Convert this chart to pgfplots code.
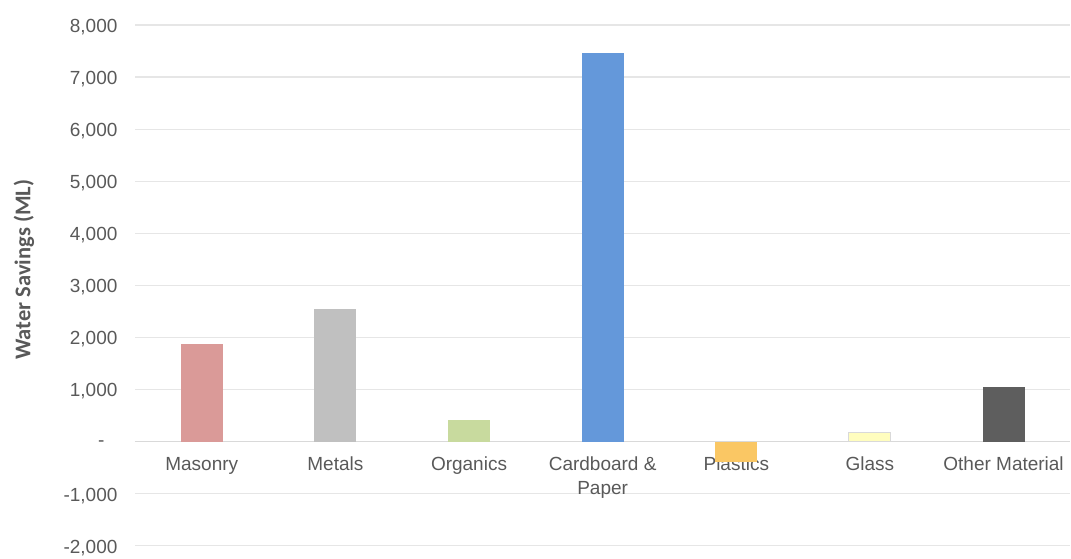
\documentclass[border=0pt]{standalone}
\usepackage{pgfplots}
\pgfplotsset{compat=1.18}
\usepackage{fontspec}
\setmainfont{Liberation Sans}
\newfontfamily\calibri{Carlito}
\definecolor{txt}{HTML}{595959}
\definecolor{gridc}{HTML}{E6E6E6}
\definecolor{zeroc}{HTML}{D9D9D9}
\definecolor{cMas}{HTML}{DA9A98}
\definecolor{cMet}{HTML}{C0C0C0}
\definecolor{cOrg}{HTML}{C8DA9E}
\definecolor{cCar}{HTML}{6498DA}
\definecolor{cPla}{HTML}{FAC764}
\definecolor{cGla}{HTML}{FFFDBE}
\definecolor{cOth}{HTML}{5E5E5E}
\begin{document}
\begin{tikzpicture}
\begin{axis}[
  at={(0pt,0pt)}, anchor=south west,
  scale only axis, width=936pt, height=521pt,
  ymin=-2000, ymax=8000,
  xmin=-0.5, xmax=6.5,
  ytick={-2000,-1000,0,1000,2000,3000,4000,5000,6000,7000,8000},
  yticklabels={{-2,000},{-1,000},{-\kern13pt},{1,000},{2,000},{3,000},{4,000},{5,000},{6,000},{7,000},{8,000}},
  xtick={0,1,2,3,4,5,6},
  xticklabels={Masonry,Metals,Organics,{Cardboard \&\\Paper},Plastics,Glass,Other Material},
  axis x line*=middle,
  axis y line*=left,
  x axis line style={draw=zeroc, line width=1.2pt},
  y axis line style={draw=none},
  major tick length=0pt,
  ymajorgrids, grid style={gridc, line width=1.2pt},
  xticklabel style={font=\fontsize{19}{24}\selectfont, text=txt, align=center, yshift=-12pt, anchor=north},
  yticklabel style={font=\fontsize{19}{24}\selectfont, text=txt, xshift=-14pt, yshift=-2pt},
  ylabel={\calibri\bfseries Water Savings (ML)},
  every axis y label/.style={at={(axis description cs:0,0.53)}, xshift=-111pt, rotate=90, anchor=center, font=\fontsize{22.5}{24}\selectfont, text=txt},
  ybar, bar width=42pt, bar shift=0pt,
  clip=false,
]
\addplot[fill=cMas, draw=none] coordinates {(0,1877)};
\addplot[fill=cMet, draw=none] coordinates {(1,2545)};
\addplot[fill=cOrg, draw=none] coordinates {(2,418)};
\addplot[fill=cCar, draw=none] coordinates {(3,7455)};
\addplot[fill=cPla, draw=none] coordinates {(4,-394)};
\addplot[fill=cGla, draw=zeroc, line width=1pt] coordinates {(5,175)};
\addplot[fill=cOth, draw=none] coordinates {(6,1053)};
\end{axis}
\path[use as bounding box] (-135pt,-9pt) rectangle (936pt,546pt);
\end{tikzpicture}
\end{document}
